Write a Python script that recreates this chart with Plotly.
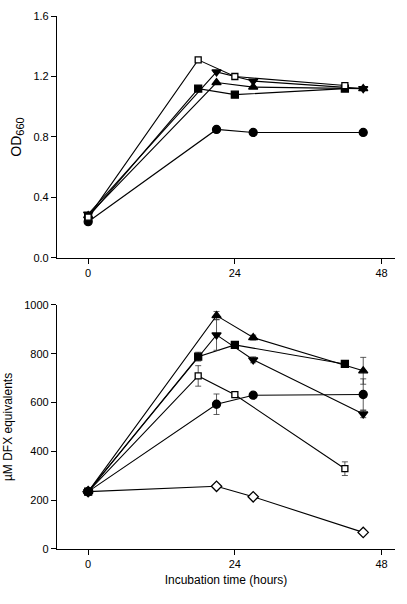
import plotly.graph_objects as go

# ---- top panel: OD660 ----
t_a = [0, 18, 24, 42]          # open / filled squares
t_b = [0, 21, 27, 45]          # triangles, circle, diamond
od_open_sq = [0.27, 1.31, 1.20, 1.14]
od_fill_sq = [0.27, 1.12, 1.08, 1.12]
od_tri_up = [0.28, 1.16, 1.13, 1.12]
od_tri_dn = [0.29, 1.23, 1.17, 1.12]
od_circle = [0.24, 0.85, 0.83, 0.83]

# ---- bottom panel: uM DFX equivalents ----
dfx_open_sq = [235, 709, 632, 329]
dfx_open_sq_err = [0, 42, 8, 28]
dfx_fill_sq = [235, 788, 836, 758]
dfx_fill_sq_err = [0, 18, 8, 8]
dfx_tri_up = [235, 956, 866, 730]
dfx_tri_up_err = [0, 17, 10, 55]
dfx_tri_dn = [235, 877, 775, 553]
dfx_tri_dn_err = [0, 63, 12, 15]
dfx_circle = [235, 593, 630, 633]
dfx_circle_err = [0, 42, 10, 64]
dfx_diamond = [235, 257, 214, 68]

x_ticks = [0, 24, 48]
od_ticks = [0.0, 0.4, 0.8, 1.2, 1.6]
dfx_ticks = [0, 200, 400, 600, 800, 1000]

FONT = "Liberation Sans, Arial, sans-serif"
fig = go.Figure()

def add(x, y, sym, fill, size, xa, ya, err=None):
    kw = {}
    if err is not None:
        kw["error_y"] = dict(type="data", array=err, visible=True, color="#333",
                             thickness=0.8, width=3)
    fig.add_trace(go.Scatter(
        x=x, y=y, mode="lines+markers", xaxis=xa, yaxis=ya,
        line=dict(color="black", width=1.1),
        marker=dict(symbol=sym, size=size, color=fill,
                    line=dict(color="black", width=1.3)),
        showlegend=False, **kw))

# top
add(t_b, od_circle, "circle", "black", 8, "x", "y")
add(t_a, od_fill_sq, "square", "black", 7, "x", "y")
add(t_b, od_tri_up, "triangle-up", "black", 8, "x", "y")
add(t_b, od_tri_dn, "triangle-down", "black", 8, "x", "y")
add(t_a, od_open_sq, "square", "white", 6, "x", "y")

# bottom
add(t_b, dfx_diamond, "diamond", "white", 8, "x2", "y2")
add(t_b, dfx_circle, "circle", "black", 8, "x2", "y2", dfx_circle_err)
add(t_a, dfx_open_sq, "square", "white", 6, "x2", "y2", dfx_open_sq_err)
add(t_a, dfx_fill_sq, "square", "black", 7, "x2", "y2", dfx_fill_sq_err)
add(t_b, dfx_tri_dn, "triangle-down", "black", 8, "x2", "y2", dfx_tri_dn_err)
add(t_b, dfx_tri_up, "triangle-up", "black", 8, "x2", "y2", dfx_tri_up_err)

axis_common = dict(showline=True, linecolor="black", linewidth=1.2, ticks="outside",
                   ticklen=5, tickwidth=1.2, tickcolor="black", showgrid=False,
                   zeroline=False, automargin=False,
                   tickfont=dict(size=11, color="black", family=FONT))

fig.update_layout(
    width=407, height=604,
    margin=dict(l=57, r=12, t=16, b=55),
    paper_bgcolor="white", plot_bgcolor="white",
    font=dict(family=FONT, color="black"),
    xaxis=dict(domain=[0, 1], range=[-5.1, 50.2], tickvals=x_ticks, anchor="y",
               **axis_common),
    yaxis=dict(domain=[0.546, 1], range=[0, 1.6], tickvals=od_ticks,
               tickformat=".1f", anchor="x",
               title=dict(text="OD<sub><span style='font-size:11px'>660</span></sub>",
                          font=dict(size=14), standoff=8),
               **axis_common),
    xaxis2=dict(domain=[0, 1], range=[-5.1, 50.2], tickvals=x_ticks, anchor="y2",
                title=dict(text="Incubation time (hours)", font=dict(size=12), standoff=6),
                **axis_common),
    yaxis2=dict(domain=[0, 0.458], range=[0, 1000], tickvals=dfx_ticks, anchor="x2",
                title=dict(text="µM DFX equivalents", font=dict(size=12), standoff=9),
                **axis_common),
)

fig.write_html("out.html", config={"displayModeBar": False},
               post_script="document.body.style.margin='0';document.body.style.overflow='hidden';")
